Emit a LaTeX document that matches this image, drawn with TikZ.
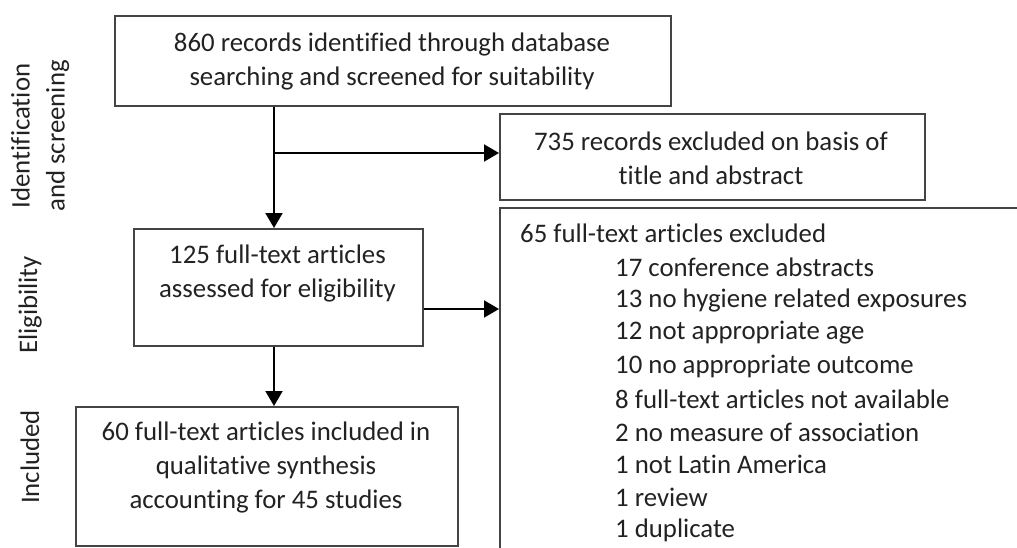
\documentclass[tikz,border=0pt]{standalone}
\usepackage{fontspec}
\setmainfont{Carlito}[Ligatures=NoCommon]
\usetikzlibrary{arrows.meta}
\definecolor{txt}{HTML}{222222}
\definecolor{frame}{HTML}{444444}
\tikzset{
  box/.style={draw=frame, line width=1.6pt, inner sep=0pt, anchor=north west},
  tx/.style={text=txt, align=center, inner sep=0pt, font=\fontsize{26.8}{34}\selectfont},
  lbl/.style={text=txt, align=center, rotate=90, font=\fontsize{26.8}{35}\selectfont},
  itm/.style={text=txt, anchor=west, inner sep=0pt, font=\fontsize{26.8}{33}\selectfont},
  arr/.style={line width=2pt, -{Triangle[length=15pt,width=17pt]}}
}
\begin{document}
\begin{tikzpicture}[x=1pt,y=-1pt]
\useasboundingbox (0,0) rectangle (1017,547);
\clip (0,0) rectangle (1017,547);
\node[box, minimum width=556pt, minimum height=90pt] (b1) at (114,15) {};
\node[tx] (b1t) at (392,61) {860 records identified through database\\searching and screened for suitability};
\node[box, minimum width=425pt, minimum height=86pt] (b2) at (499,113) {};
\node[tx] (b2t) at (711,158) {735 records excluded on basis of\\title and abstract};
\node[box, minimum width=289pt, minimum height=117pt] (b3) at (133,228) {};
\node[tx] (b3t) at (277.5,273) {125 full-text articles\\assessed for eligibility};
\node[box, minimum width=382pt, minimum height=139pt] (b4) at (75,406) {};
\node[tx] (b4t) at (266,467) {60 full-text articles included in\\qualitative synthesis\\accounting for 45 studies};
\node[box, minimum width=600pt, minimum height=400pt] (b5) at (499,207) {};
\node[itm] (t0) at (520,233) {65 full-text articles excluded};
\node[itm] (t1) at (615,267) {17 conference abstracts};
\node[itm] (t2) at (615,300) {13 no hygiene related exposures};
\node[itm] (t3) at (615,333) {12 not appropriate age};
\node[itm] (t4) at (615,366) {10 no appropriate outcome};
\node[itm] (t5) at (615,399) {8 full-text articles not available};
\node[itm] (t6) at (615,432) {2 no measure of association};
\node[itm] (t7) at (615,464) {1 not Latin America};
\node[itm] (t8) at (615,497) {1 review};
\node[itm] (t9) at (615,530) {1 duplicate};
\node[lbl] (l1) at (40,136) {Identification\\and screening};
\node[lbl] (l2) at (30,305) {Eligibility};
\node[lbl] (l3) at (30,457) {Included};
\coordinate (j) at (274,153);
\draw[arr] (b1.south -| j) -- (b3.north -| j);
\draw[arr] (j) -- (j -| b2.west);
\draw[arr] (b3.east |- 0,309) -- (b5.west |- 0,309);
\draw[arr] (b3.south -| j) -- (b4.north -| j);
\end{tikzpicture}
\end{document}
